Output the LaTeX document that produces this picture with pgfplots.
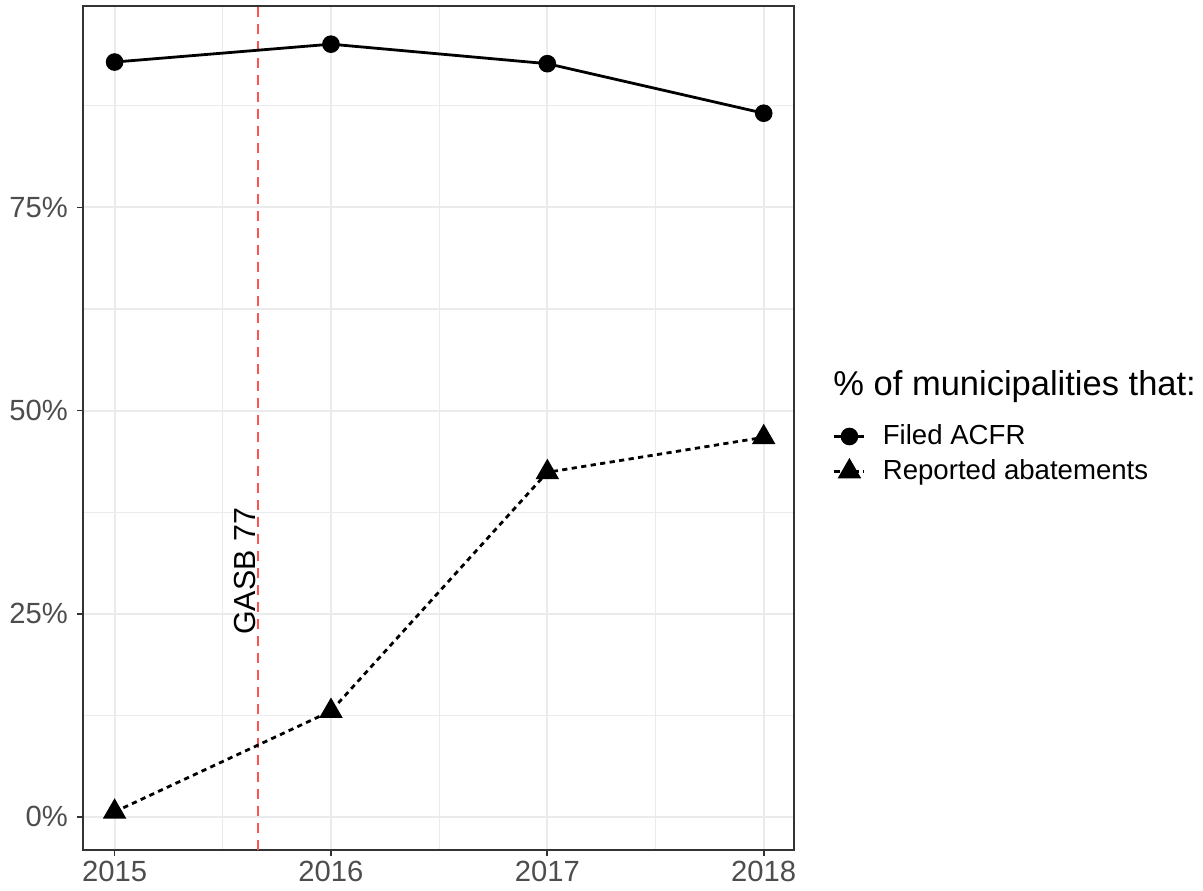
\documentclass[border=0pt]{standalone}
\usepackage{pgfplots}
\pgfplotsset{compat=1.18}
\usepackage{fontspec}
\setmainfont{Liberation Sans}

\definecolor{gridgray}{HTML}{EBEBEB}
\definecolor{framegray}{HTML}{333333}
\definecolor{labgray}{HTML}{4D4D4D}
\definecolor{gasbred}{HTML}{FF5252}

\newcommand{\txtfont}{\fontsize{13.8}{16}\selectfont}
\newcommand{\tickfont}{\fontsize{14.6}{17}\selectfont}

\begin{document}
\begin{tikzpicture}
\useasboundingbox (-41.5pt,-20pt) rectangle (560pt,425pt);
\begin{axis}[
    at={(0pt,0pt)}, anchor=south west,
    width=355.5pt, height=422pt, scale only axis,
    xmin=2014.854, xmax=2018.14,
    ymin=-4.1, ymax=99.8,
    xtick={2015,2016,2017,2018},
    xticklabels={2015,2016,2017,2018},
    minor xtick={2015.5,2016.5,2017.5},
    ytick={0,25,50,75},
    yticklabels={0\%,25\%,50\%,75\%},
    minor ytick={12.5,37.5,62.5,87.5},
    grid=both,
    major grid style={gridgray, line width=1pt},
    minor grid style={gridgray, line width=0.55pt},
    axis line style={framegray, line width=0.9pt},
    tick align=outside, tick pos=left,
    major tick length=3pt, minor tick length=0pt,
    tick style={framegray, line width=0.9pt},
    ticklabel style={font=\tickfont, text=labgray},
    xticklabel style={inner sep=2.5pt},
    yticklabel style={inner sep=4.4pt},
    /pgf/number format/assume math mode=true,
    clip=false,
    legend cell align=left,
    legend style={draw=none, fill=none, inner sep=0pt, outer sep=0pt,
        at={(axis description cs:1.0549,0.4692)}, anchor=west,
        font=\txtfont, row sep=0pt,
        nodes={text height=10.5pt, text depth=3pt, inner sep=2pt},
        /tikz/every odd column/.append style={column sep=6.5pt}},
    legend image code/.code={\draw[mark repeat=2,mark phase=2,#1]
        plot coordinates {(0pt,0pt) (7.5pt,0pt) (15pt,0pt)};},
]
\draw[gasbred, line width=1.1pt, dash pattern=on 5pt off 3.5pt]
    (axis cs:2015.663,-4.1) -- (axis cs:2015.663,99.8);
\node[xshift=-1.4pt, rotate=90, anchor=base, inner sep=0pt,
      font=\fontsize{15.2}{18}\selectfont] at (axis cs:2015.663,30.2) {GASB 77};

\addplot[black, line width=1.4pt, mark=*, mark size=3.7pt,
         mark options={solid}] coordinates {
    (2015,92.9) (2016,95.1) (2017,92.7) (2018,86.6)
};
\addlegendentry{Filed ACFR}
\addplot[black, line width=1.4pt, dash pattern=on 2.6pt off 2.2pt,
         mark=triangle*, mark size=5.4pt, mark options={solid}] coordinates {
    (2015,0.6) (2016,13.0) (2017,42.4) (2018,46.7)
};
\addlegendentry{Reported abatements}

\node[anchor=base west, inner sep=0pt, font=\fontsize{17.25}{20}\selectfont]
    at (axis description cs:1.0549,0.539) {\% of municipalities that:};
\end{axis}
\end{tikzpicture}
\end{document}
